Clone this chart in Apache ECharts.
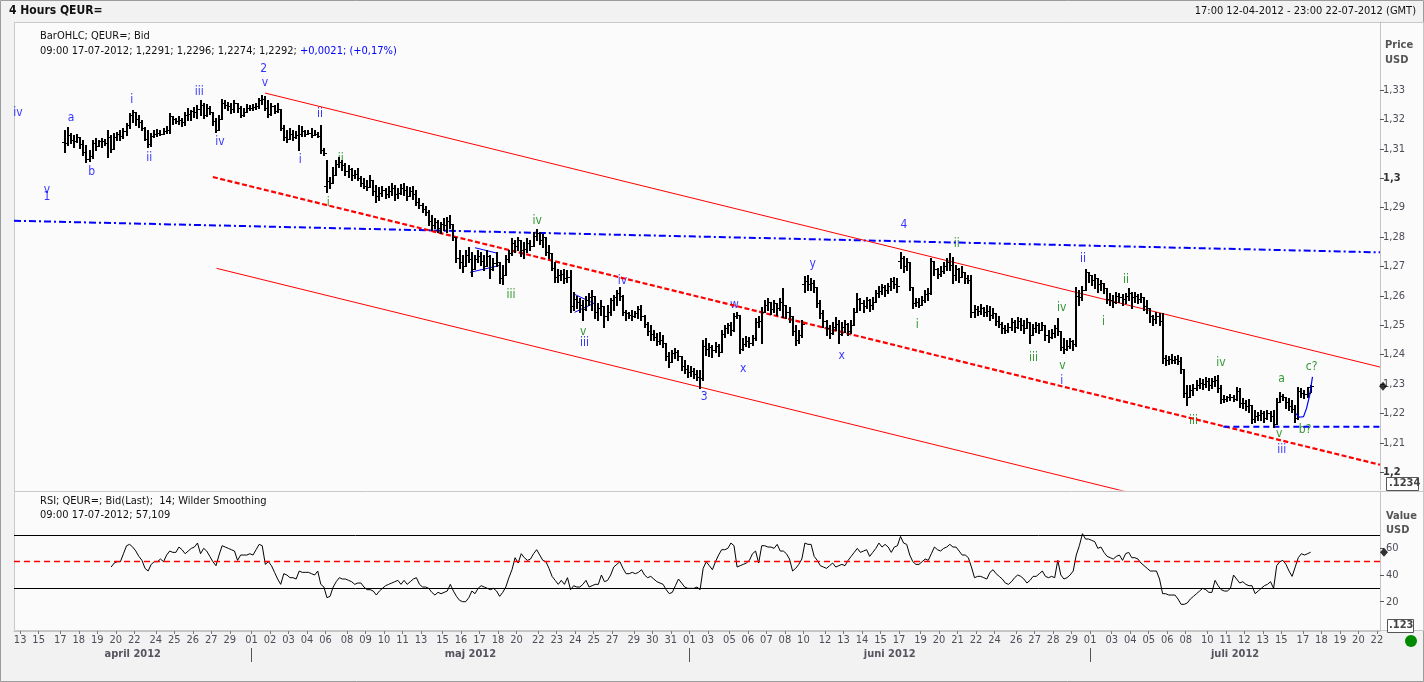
<!DOCTYPE html>
<html><head><meta charset="utf-8">
<script src="https://cdn.jsdelivr.net/npm/echarts@6/dist/echarts.min.js"></script>
<style>html,body{margin:0;padding:0;background:#f2f2f2;}#c{width:1424px;height:682px;}</style>
</head><body><div id="c"></div>
<script>
// ---------------- data ----------------
const sessionHours = ['01:00','05:00','09:00','13:00','17:00','21:00'];
const sundayHours = ['21:00'];
const firstDayHours = ['17:00','21:00'];
const rangeFirstDay = '2012-04-12', rangeLastDay = '2012-07-22';
const firstBarTime = '2012-04-17 05:00';
const rsiFirstTime = '2012-04-19 17:00';

const opens = [
1.3123,1.3120,1.3147,1.3130,1.3125,1.3140,1.3115,1.3090,1.3065,1.3075,
1.3120,1.3110,1.3125,1.3128,1.3120,1.3140,1.3100,1.3140,1.3150,1.3145,
1.3160,1.3180,1.3215,1.3225,1.3200,1.3190,1.3170,1.3135,1.3115,1.3145,
1.3150,1.3155,1.3150,1.3160,1.3165,1.3210,1.3200,1.3195,1.3198,1.3190,
1.3215,1.3220,1.3228,1.3225,1.3235,1.3250,1.3215,1.3240,1.3225,1.3195,
1.3165,1.3200,1.3255,1.3250,1.3245,1.3235,1.3255,1.3240,1.3215,1.3225,
1.3240,1.3238,1.3242,1.3245,1.3265,1.3270,1.3240,1.3220,1.3245,1.3230,
1.3235,1.3170,1.3140,1.3135,1.3150,1.3140,1.3148,1.3150,1.3160,1.3150,
1.3155,1.3148,1.3152,1.3145,1.3095,1.2975,1.2990,1.2985,1.3010,1.3050,
1.3055,1.3045,1.3025,1.3030,1.3010,1.3015,1.3000,1.2985,1.2975,1.2970,
1.2995,1.2955,1.2940,1.2950,1.2960,1.2945,1.2955,1.2965,1.2945,1.2950,
1.2965,1.2960,1.2940,1.2955,1.2945,1.2920,1.2910,1.2895,1.2885,1.2855,
1.2840,1.2850,1.2830,1.2845,1.2840,1.2855,1.2845,1.2800,1.2730,1.2715,
1.2700,1.2740,1.2725,1.2690,1.2725,1.2735,1.2720,1.2700,1.2735,1.2690,
1.2710,1.2715,1.2660,1.2670,1.2725,1.2745,1.2780,1.2770,1.2790,1.2755,
1.2760,1.2780,1.2770,1.2805,1.2815,1.2790,1.2800,1.2750,1.2745,1.2695,
1.2665,1.2670,1.2675,1.2660,1.2665,1.2565,1.2590,1.2580,1.2570,1.2555,
1.2585,1.2595,1.2600,1.2545,1.2560,1.2565,1.2530,1.2545,1.2585,1.2595,
1.2610,1.2600,1.2545,1.2540,1.2535,1.2530,1.2540,1.2555,1.2530,1.2505,
1.2480,1.2470,1.2460,1.2445,1.2450,1.2440,1.2395,1.2375,1.2405,1.2410,
1.2395,1.2360,1.2350,1.2340,1.2345,1.2335,1.2325,1.2320,1.2430,1.2420,
1.2425,1.2415,1.2430,1.2410,1.2470,1.2490,1.2500,1.2485,1.2530,1.2535,
1.2420,1.2435,1.2445,1.2440,1.2455,1.2510,1.2515,1.2545,1.2570,1.2580,
1.2555,1.2575,1.2560,1.2580,1.2570,1.2545,1.2530,1.2480,1.2450,1.2465,
1.2640,1.2650,1.2640,1.2645,1.2630,1.2575,1.2540,1.2515,1.2490,1.2475,
1.2495,1.2505,1.2470,1.2495,1.2505,1.2480,1.2500,1.2545,1.2590,1.2575,
1.2565,1.2585,1.2570,1.2580,1.2610,1.2615,1.2630,1.2620,1.2635,1.2650,
1.2640,1.2720,1.2730,1.2700,1.2715,1.2630,1.2575,1.2580,1.2570,1.2585,
1.2605,1.2610,1.2720,1.2690,1.2675,1.2685,1.2700,1.2715,1.2705,1.2670,
1.2690,1.2665,1.2680,1.2660,1.2655,1.2545,1.2555,1.2550,1.2560,1.2545,
1.2550,1.2535,1.2540,1.2515,1.2505,1.2490,1.2485,1.2495,1.2510,1.2495,
1.2515,1.2500,1.2490,1.2510,1.2465,1.2490,1.2500,1.2485,1.2500,1.2465,
1.2460,1.2475,1.2490,1.2480,1.2425,1.2420,1.2430,1.2445,1.2435,1.2600,
1.2595,1.2620,1.2680,1.2670,1.2655,1.2660,1.2640,1.2645,1.2625,1.2590,
1.2585,1.2580,1.2600,1.2595,1.2590,1.2600,1.2610,1.2595,1.2600,1.2590,
1.2595,1.2565,1.2560,1.2530,1.2520,1.2530,1.2515,1.2390,1.2380,1.2385,
1.2380,1.2385,1.2378,1.2350,1.2270,1.2255,1.2280,1.2285,1.2295,1.2305,
1.2300,1.2310,1.2295,1.2310,1.2315,1.2285,1.2250,1.2250,1.2255,1.2255,
1.2250,1.2275,1.2235,1.2235,1.2225,1.2230,1.2180,1.2190,1.2195,1.2200,
1.2185,1.2200,1.2190,1.2165,1.2240,1.2260,1.2255,1.2240,1.2225,1.2215,
1.2185,1.2275,1.2270,1.2265,1.2291];

const highs = [
1.3164,1.3175,1.3154,1.3147,1.3150,1.3140,1.3130,1.3113,1.3096,1.3130,
1.3137,1.3130,1.3137,1.3133,1.3164,1.3147,1.3154,1.3157,1.3164,1.3171,
1.3188,1.3222,1.3232,1.3222,1.3215,1.3198,1.3174,1.3164,1.3154,1.3164,
1.3167,1.3164,1.3171,1.3178,1.3222,1.3212,1.3205,1.3212,1.3205,1.3225,
1.3239,1.3232,1.3242,1.3249,1.3266,1.3256,1.3252,1.3246,1.3225,1.3205,
1.3215,1.3269,1.3266,1.3259,1.3256,1.3266,1.3252,1.3246,1.3239,1.3252,
1.3249,1.3252,1.3256,1.3273,1.3283,1.3280,1.3266,1.3256,1.3249,1.3256,
1.3232,1.3181,1.3164,1.3171,1.3164,1.3160,1.3181,1.3178,1.3164,1.3164,
1.3171,1.3164,1.3157,1.3181,1.3103,1.3062,1.3004,1.3038,1.3062,1.3072,
1.3062,1.3052,1.3045,1.3035,1.3028,1.3035,1.3007,1.3001,1.2994,1.3011,
1.2994,1.2977,1.2970,1.2974,1.2967,1.2974,1.2984,1.2977,1.2967,1.2980,
1.2984,1.2974,1.2970,1.2974,1.2960,1.2933,1.2916,1.2906,1.2892,1.2875,
1.2865,1.2858,1.2851,1.2865,1.2868,1.2875,1.2841,1.2800,1.2756,1.2739,
1.2756,1.2766,1.2749,1.2739,1.2756,1.2749,1.2739,1.2756,1.2739,1.2729,
1.2749,1.2715,1.2705,1.2739,1.2756,1.2796,1.2790,1.2800,1.2790,1.2783,
1.2796,1.2790,1.2817,1.2827,1.2817,1.2810,1.2790,1.2773,1.2739,1.2715,
1.2691,1.2688,1.2691,1.2688,1.2688,1.2613,1.2599,1.2592,1.2586,1.2599,
1.2609,1.2620,1.2586,1.2576,1.2586,1.2559,1.2569,1.2592,1.2603,1.2620,
1.2630,1.2603,1.2552,1.2545,1.2552,1.2548,1.2565,1.2569,1.2535,1.2511,
1.2501,1.2484,1.2474,1.2477,1.2467,1.2440,1.2409,1.2416,1.2422,1.2416,
1.2388,1.2382,1.2365,1.2361,1.2354,1.2348,1.2348,1.2450,1.2457,1.2440,
1.2433,1.2443,1.2436,1.2484,1.2501,1.2508,1.2511,1.2542,1.2545,1.2535,
1.2457,1.2463,1.2460,1.2467,1.2525,1.2531,1.2562,1.2586,1.2592,1.2579,
1.2586,1.2576,1.2592,1.2627,1.2569,1.2562,1.2525,1.2501,1.2484,1.2518,
1.2667,1.2671,1.2660,1.2654,1.2630,1.2586,1.2552,1.2518,1.2501,1.2511,
1.2528,1.2518,1.2511,1.2518,1.2508,1.2518,1.2559,1.2609,1.2592,1.2586,
1.2596,1.2589,1.2596,1.2620,1.2633,1.2640,1.2637,1.2643,1.2660,1.2664,
1.2660,1.2749,1.2735,1.2729,1.2691,1.2630,1.2592,1.2592,1.2599,1.2620,
1.2627,1.2729,1.2715,1.2694,1.2701,1.2715,1.2729,1.2745,1.2732,1.2705,
1.2694,1.2701,1.2681,1.2671,1.2671,1.2569,1.2565,1.2572,1.2562,1.2569,
1.2565,1.2559,1.2542,1.2531,1.2511,1.2501,1.2508,1.2525,1.2518,1.2528,
1.2525,1.2518,1.2525,1.2508,1.2504,1.2511,1.2508,1.2511,1.2491,1.2484,
1.2487,1.2501,1.2525,1.2467,1.2457,1.2450,1.2457,1.2450,1.2630,1.2620,
1.2633,1.2691,1.2681,1.2671,1.2674,1.2660,1.2654,1.2643,1.2620,1.2609,
1.2603,1.2613,1.2609,1.2606,1.2609,1.2627,1.2613,1.2613,1.2606,1.2609,
1.2596,1.2586,1.2560,1.2535,1.2545,1.2542,1.2542,1.2399,1.2395,1.2402,
1.2395,1.2399,1.2392,1.2350,1.2297,1.2297,1.2300,1.2314,1.2320,1.2317,
1.2324,1.2320,1.2320,1.2327,1.2331,1.2297,1.2263,1.2260,1.2266,1.2263,
1.2290,1.2286,1.2252,1.2246,1.2249,1.2229,1.2212,1.2205,1.2212,1.2208,
1.2212,1.2208,1.2212,1.2252,1.2273,1.2266,1.2256,1.2252,1.2246,1.2229,
1.2290,1.2286,1.2280,1.2290,1.2296];

const lows = [
1.3089,1.3113,1.3120,1.3106,1.3123,1.3103,1.3079,1.3055,1.3058,1.3069,
1.3096,1.3110,1.3106,1.3113,1.3072,1.3089,1.3123,1.3130,1.3130,1.3137,
1.3147,1.3171,1.3191,1.3181,1.3174,1.3164,1.3130,1.3106,1.3109,1.3140,
1.3143,1.3147,1.3150,1.3154,1.3154,1.3184,1.3188,1.3184,1.3178,1.3181,
1.3198,1.3198,1.3208,1.3205,1.3215,1.3205,1.3212,1.3218,1.3181,1.3157,
1.3164,1.3200,1.3239,1.3232,1.3222,1.3225,1.3225,1.3208,1.3212,1.3225,
1.3232,1.3232,1.3235,1.3239,1.3252,1.3232,1.3208,1.3215,1.3222,1.3225,
1.3164,1.3130,1.3123,1.3143,1.3130,1.3137,1.3096,1.3143,1.3143,1.3150,
1.3140,1.3147,1.3140,1.3086,1.3079,1.2953,1.2967,1.2984,1.3021,1.3038,
1.3028,1.3011,1.3004,1.2994,1.3001,1.2994,1.2973,1.2967,1.2960,1.2977,
1.2943,1.2919,1.2926,1.2940,1.2933,1.2936,1.2943,1.2926,1.2933,1.2946,
1.2943,1.2926,1.2940,1.2929,1.2909,1.2899,1.2885,1.2875,1.2841,1.2824,
1.2831,1.2817,1.2813,1.2824,1.2817,1.2831,1.2790,1.2715,1.2694,1.2681,
1.2705,1.2715,1.2667,1.2694,1.2715,1.2705,1.2688,1.2701,1.2661,1.2688,
1.2701,1.2643,1.2640,1.2688,1.2715,1.2739,1.2749,1.2756,1.2735,1.2729,
1.2749,1.2756,1.2769,1.2790,1.2776,1.2766,1.2739,1.2729,1.2688,1.2647,
1.2647,1.2654,1.2643,1.2647,1.2545,1.2552,1.2558,1.2545,1.2518,1.2552,
1.2569,1.2552,1.2525,1.2518,1.2535,1.2494,1.2518,1.2535,1.2552,1.2569,
1.2586,1.2535,1.2518,1.2525,1.2518,1.2528,1.2525,1.2518,1.2494,1.2467,
1.2450,1.2450,1.2433,1.2436,1.2426,1.2382,1.2358,1.2375,1.2388,1.2382,
1.2348,1.2337,1.2324,1.2327,1.2320,1.2314,1.2286,1.2315,1.2399,1.2395,
1.2392,1.2409,1.2395,1.2410,1.2460,1.2474,1.2467,1.2480,1.2525,1.2406,
1.2416,1.2429,1.2426,1.2433,1.2450,1.2494,1.2440,1.2545,1.2552,1.2538,
1.2545,1.2535,1.2552,1.2528,1.2525,1.2511,1.2467,1.2433,1.2440,1.2460,
1.2613,1.2620,1.2620,1.2613,1.2562,1.2525,1.2494,1.2467,1.2457,1.2470,
1.2484,1.2440,1.2467,1.2477,1.2467,1.2474,1.2500,1.2545,1.2552,1.2545,
1.2558,1.2548,1.2555,1.2579,1.2596,1.2606,1.2599,1.2609,1.2620,1.2627,
1.2613,1.2695,1.2681,1.2688,1.2620,1.2558,1.2565,1.2562,1.2569,1.2579,
1.2586,1.2605,1.2671,1.2660,1.2667,1.2677,1.2688,1.2688,1.2643,1.2654,
1.2647,1.2664,1.2643,1.2643,1.2528,1.2528,1.2535,1.2538,1.2531,1.2531,
1.2518,1.2525,1.2501,1.2494,1.2474,1.2474,1.2477,1.2484,1.2477,1.2491,
1.2484,1.2474,1.2491,1.2440,1.2467,1.2477,1.2474,1.2484,1.2450,1.2443,
1.2457,1.2460,1.2467,1.2416,1.2406,1.2416,1.2422,1.2416,1.2430,1.2569,
1.2586,1.2620,1.2647,1.2637,1.2627,1.2613,1.2620,1.2609,1.2576,1.2569,
1.2562,1.2576,1.2579,1.2569,1.2576,1.2586,1.2559,1.2579,1.2576,1.2579,
1.2552,1.2542,1.2511,1.2501,1.2508,1.2501,1.2371,1.2365,1.2368,1.2371,
1.2371,1.2368,1.2337,1.2256,1.2229,1.2256,1.2263,1.2280,1.2286,1.2283,
1.2290,1.2280,1.2286,1.2293,1.2273,1.2236,1.2239,1.2242,1.2246,1.2242,
1.2246,1.2222,1.2218,1.2212,1.2205,1.2167,1.2171,1.2178,1.2178,1.2171,
1.2181,1.2174,1.2154,1.2164,1.2239,1.2246,1.2218,1.2212,1.2205,1.2171,
1.2180,1.2256,1.2252,1.2255,1.2274];

const closes = [
1.3120,1.3147,1.3130,1.3125,1.3140,1.3115,1.3090,1.3065,1.3075,1.3120,
1.3110,1.3125,1.3128,1.3120,1.3140,1.3100,1.3140,1.3150,1.3145,1.3160,
1.3180,1.3215,1.3225,1.3200,1.3190,1.3170,1.3135,1.3115,1.3145,1.3150,
1.3155,1.3150,1.3160,1.3165,1.3210,1.3200,1.3195,1.3198,1.3190,1.3215,
1.3220,1.3228,1.3225,1.3235,1.3250,1.3215,1.3240,1.3225,1.3195,1.3165,
1.3200,1.3255,1.3250,1.3245,1.3235,1.3255,1.3240,1.3215,1.3225,1.3240,
1.3238,1.3242,1.3245,1.3265,1.3270,1.3240,1.3220,1.3245,1.3230,1.3235,
1.3170,1.3140,1.3135,1.3150,1.3140,1.3148,1.3150,1.3160,1.3150,1.3155,
1.3148,1.3152,1.3145,1.3095,1.3085,1.2990,1.2985,1.3010,1.3050,1.3055,
1.3045,1.3025,1.3030,1.3010,1.3015,1.3000,1.2985,1.2975,1.2970,1.2995,
1.2955,1.2940,1.2950,1.2960,1.2945,1.2955,1.2965,1.2945,1.2950,1.2965,
1.2960,1.2940,1.2955,1.2945,1.2920,1.2910,1.2895,1.2885,1.2855,1.2840,
1.2850,1.2830,1.2845,1.2840,1.2855,1.2845,1.2800,1.2730,1.2715,1.2700,
1.2740,1.2725,1.2690,1.2725,1.2735,1.2720,1.2700,1.2735,1.2690,1.2710,
1.2715,1.2660,1.2670,1.2725,1.2745,1.2780,1.2770,1.2790,1.2755,1.2760,
1.2780,1.2770,1.2805,1.2815,1.2790,1.2800,1.2750,1.2745,1.2695,1.2665,
1.2670,1.2675,1.2660,1.2665,1.2565,1.2590,1.2580,1.2570,1.2555,1.2585,
1.2595,1.2600,1.2545,1.2560,1.2565,1.2530,1.2545,1.2585,1.2595,1.2610,
1.2600,1.2545,1.2540,1.2535,1.2530,1.2540,1.2555,1.2530,1.2505,1.2480,
1.2470,1.2460,1.2445,1.2450,1.2440,1.2395,1.2375,1.2405,1.2410,1.2395,
1.2360,1.2350,1.2340,1.2345,1.2335,1.2325,1.2320,1.2430,1.2420,1.2425,
1.2415,1.2430,1.2410,1.2470,1.2490,1.2500,1.2485,1.2530,1.2535,1.2420,
1.2435,1.2445,1.2440,1.2455,1.2510,1.2515,1.2545,1.2570,1.2580,1.2555,
1.2575,1.2560,1.2580,1.2570,1.2545,1.2530,1.2480,1.2450,1.2465,1.2505,
1.2650,1.2640,1.2645,1.2630,1.2575,1.2540,1.2515,1.2490,1.2475,1.2495,
1.2505,1.2470,1.2495,1.2505,1.2480,1.2500,1.2545,1.2590,1.2575,1.2565,
1.2585,1.2570,1.2580,1.2610,1.2615,1.2630,1.2620,1.2635,1.2650,1.2640,
1.2635,1.2730,1.2700,1.2715,1.2630,1.2575,1.2580,1.2570,1.2585,1.2605,
1.2610,1.2720,1.2690,1.2675,1.2685,1.2700,1.2715,1.2705,1.2670,1.2690,
1.2665,1.2680,1.2660,1.2655,1.2545,1.2555,1.2550,1.2560,1.2545,1.2550,
1.2535,1.2540,1.2515,1.2505,1.2490,1.2485,1.2495,1.2510,1.2495,1.2515,
1.2500,1.2490,1.2510,1.2465,1.2490,1.2500,1.2485,1.2500,1.2465,1.2460,
1.2475,1.2490,1.2480,1.2425,1.2420,1.2430,1.2445,1.2435,1.2600,1.2595,
1.2620,1.2680,1.2670,1.2655,1.2660,1.2640,1.2645,1.2625,1.2590,1.2585,
1.2580,1.2600,1.2595,1.2590,1.2600,1.2610,1.2595,1.2600,1.2590,1.2595,
1.2565,1.2560,1.2530,1.2520,1.2530,1.2515,1.2390,1.2380,1.2385,1.2380,
1.2385,1.2378,1.2350,1.2270,1.2255,1.2280,1.2285,1.2295,1.2305,1.2300,
1.2310,1.2295,1.2310,1.2315,1.2285,1.2250,1.2250,1.2255,1.2255,1.2250,
1.2275,1.2235,1.2235,1.2225,1.2230,1.2180,1.2190,1.2195,1.2200,1.2185,
1.2200,1.2190,1.2165,1.2240,1.2260,1.2255,1.2240,1.2225,1.2215,1.2185,
1.2275,1.2270,1.2265,1.2271,1.2292];

const rsiValues = [
46,49,50,50,56,62,63,61,58,54, 51,45,43,48,50,50,52,50,55,58,
57,57,61,59,56,58,60,61,64,56, 60,58,54,50,47,55,62,61,60,59,
58,51,55,55,55,56,55,59,63,62, 48,50,47,42,37,33,41,40,38,38,
37,43,42,42,42,41,40,43,33,31, 23,24,31,35,38,37,37,36,35,33,
34,34,31,29,29,28,25,28,30,32, 33,34,35,36,33,36,33,35,37,38,
33,31,31,30,27,25,27,26,27,28, 33,28,24,21,20,20,23,28,26,30,
32,31,30,29,30,28,24,27,31,38, 44,53,49,56,53,51,52,56,59,55,
51,50,45,39,36,33,36,33,38,29, 32,31,31,33,36,31,32,33,33,40,
35,36,40,46,48,50,45,41,41,42, 41,42,44,40,38,39,37,35,34,33,
29,26,27,32,37,34,31,30,30,30, 31,29,45,50,47,44,50,55,59,59,
60,64,62,46,47,48,49,51,56,58, 49,62,62,61,61,60,63,58,58,56,
52,43,45,48,52,64,63,63,54,51, 47,46,45,47,49,46,47,48,47,51,
54,57,60,57,58,59,54,57,60,64, 61,63,61,57,61,62,69,64,63,55,
50,48,48,50,52,51,56,61,59,58, 60,61,63,61,61,58,55,55,53,46,
38,39,39,38,37,42,44,41,39,37, 34,33,35,38,40,39,37,34,36,39,
39,41,43,39,38,39,38,51,40,37, 38,40,43,55,62,71,67,67,66,65,
60,61,57,54,53,52,54,55,51,56, 57,53,53,52,49,47,45,43,43,43,
37,26,26,25,25,25,22,18,18,19, 22,24,26,28,30,29,27,27,36,32,
29,28,28,30,40,37,34,35,33,32, 32,26,28,30,32,33,35,30,47,50,
51,48,43,39,46,53,56,55,56,57.109];

const priceTicks = [1.20,1.21,1.22,1.23,1.24,1.25,1.26,1.27,1.28,1.29,1.30,1.31,1.32,1.33];
const boldPriceTicks = [1.20,1.30];
const rsiTicks = [20,40,60];
const rsiBands = [70,30];
const rsiMid = 50;
const shownDays = ['04-13','04-15','04-17','04-18','04-19','04-20','04-22','04-24','04-25','04-26','04-27','04-29',
'05-01','05-02','05-03','05-04','05-06','05-08','05-09','05-10','05-11','05-13','05-15','05-16','05-17','05-18','05-20','05-22','05-23','05-24','05-25','05-27','05-29','05-30','05-31',
'06-01','06-03','06-05','06-06','06-07','06-08','06-10','06-12','06-13','06-14','06-15','06-17','06-19','06-20','06-21','06-22','06-24','06-26','06-27','06-28','06-29',
'07-01','07-03','07-04','07-05','07-06','07-08','07-10','07-11','07-12','07-13','07-15','07-17','07-18','07-19','07-20','07-22'];
const monthNames = ['april 2012','maj 2012','juni 2012','juli 2012'];
const monthFirstDays = ['2012-04-12','2012-05-01','2012-06-01','2012-07-01'];

// Elliott wave annotations: [text, bar position, price, colour key]
const waveLabels = [
['iv',1.3,1.3222,'b'],['v',10.7,1.2962,'b'],['1',10.7,1.2936,'b'],['a',18.5,1.3205,'b'],['b',25.2,1.3022,'b'],
['i',38.2,1.3266,'b'],['ii',43.9,1.3070,'b'],['iii',60.1,1.3294,'b'],['iv',66.8,1.3124,'b'],['2',81.0,1.3371,'b'],['v',81.4,1.3323,'b'],
['ii',99.2,1.3218,'b'],['i',92.8,1.3062,'b'],['iii',185.0,1.2440,'b'],['iv',197.3,1.2650,'b'],['3',223.8,1.2256,'b'],
['w',233.6,1.2569,'b'],['x',236.5,1.2353,'b'],['y',259.0,1.2708,'b'],['x',268.4,1.2396,'b'],['4',288.6,1.2841,'b'],
['i',339.8,1.2311,'b'],['ii',346.7,1.2727,'b'],['iii',411.1,1.2075,'b'],
['i',101.9,1.2915,'g'],['ii',106.0,1.3065,'g'],['iii',161.2,1.2603,'g'],['iv',169.7,1.2854,'g'],['v',184.6,1.2478,'g'],
['i',292.9,1.2501,'g'],['ii',305.7,1.2778,'g'],['iii',330.6,1.2389,'g'],['iv',339.8,1.2559,'g'],['v',340.0,1.2361,'g'],
['i',353.3,1.2512,'g'],['ii',360.6,1.2654,'g'],['iii',382.5,1.2175,'g'],['iv',391.4,1.2372,'g'],['a',411.1,1.2317,'g'],
['v',410.3,1.2132,'g'],['b?',418.7,1.2143,'g'],['c?',420.8,1.2357,'g']];

// trend lines: [bar position, price]
const channelUpper = [[81.4,1.32897],[443,1.23577]];
const channelMiddle = [[64.5,1.30040],[443,1.20254]];
const channelLower = [[65.7,1.26934],[443,1.17216]];
const blueDashDot = [[0,1.28553],[443,1.27478]];
const blueSupport = [[392.2,1.2155],[443,1.2155]];
const triangleA1 = [[149.5,1.27635],[156.9,1.27444]];
const triangleA2 = [[147.9,1.26798],[157.6,1.27036]];
const triangleB = [[181.8,1.26050],[188.0,1.25744],[181.8,1.25438]];
const projectionC = [[415.6,1.2200],[416.9,1.2187],[418.2,1.2189],[419.2,1.2218],[420.2,1.2262],[421.1,1.2324]];

// ---------------- calendar of 4h slots ----------------
const slots = [], dayStart = {};
(function(){
  const p = s => s.split('-').map(Number);
  const a = p(rangeFirstDay), b = p(rangeLastDay);
  const d = new Date(Date.UTC(a[0],a[1]-1,a[2])), end = Date.UTC(b[0],b[1]-1,b[2]);
  let first = true;
  while (d.getTime() <= end) {
    const dow = d.getUTCDay(), key = d.toISOString().slice(0,10);
    const hrs = dow === 6 ? [] : dow === 0 ? sundayHours : (first ? firstDayHours : sessionHours);
    if (hrs.length) { dayStart[key] = slots.length; hrs.forEach(h => slots.push(key + ' ' + h)); }
    first = false; d.setUTCDate(d.getUTCDate() + 1);
  }
})();
const N = slots.length;
const firstBar = slots.indexOf(firstBarTime);
const rsiFirst = slots.indexOf(rsiFirstTime);

const ohlcData = closes.map((c,k) => [firstBar + k + 0.5, opens[k], highs[k], lows[k], c]);
const rsiData = rsiValues.map((v,k) => [rsiFirst + k + 0.5, v]);

const dayTickValues = [], dayLabelMap = {};
shownDays.forEach(md => { const i = dayStart['2012-' + md]; dayTickValues.push(i); dayLabelMap[i] = md.slice(3); });
const mStarts = monthFirstDays.map(d => dayStart[d]);
const monthSep = mStarts.slice(1);
const monthMid = [], monthLabelMap = {};
mStarts.forEach((s,k) => { const e = k+1 < mStarts.length ? mStarts[k+1] : N; const m = (s+e)/2; monthMid.push(m); monthLabelMap[m] = monthNames[k]; });

// ---------------- chart ----------------
const FONT = '"DejaVu Sans Condensed","Liberation Sans",sans-serif';
const BLUE = '#0000ff', GREEN = '#008000', RED = '#ff0000', AXC = '#4d4d58';
const last = closes.length - 1;
const f4 = v => v.toFixed(4).replace('.', ',');
const lastT = slots[firstBar + last];
const stamp = lastT.slice(11) + ' ' + lastT.slice(8,10) + '-' + lastT.slice(5,7) + '-' + lastT.slice(0,4);
const chg = closes[last] - closes[last-1];
const pct = chg / closes[last-1] * 100;
const ohlcLine = stamp + '; ' + [opens[last],highs[last],lows[last],closes[last]].map(f4).join('; ') + '; ';
const chgLine = '+' + f4(chg) + '; (+' + pct.toFixed(2).replace('.', ',') + '%)';
const rsiLine = stamp + '; ' + rsiValues[rsiValues.length-1].toFixed(3).replace('.', ',');

const PMIN = 1.19395, PMAX = 1.35313;

function renderOHLC(params, api) {
  const x = api.value(0), o = api.value(1), h = api.value(2), l = api.value(3), c = api.value(4);
  const top = api.coord([x, Math.max(h,o,c)]), bot = api.coord([x, Math.min(l,o,c)]);
  const po = api.coord([x,o]), pc = api.coord([x,c]);
  const X = Math.round(top[0]);
  const yo = Math.round(po[1]) + 0.5, yc = Math.round(pc[1]) + 0.5;
  return {type:'group', children:[
    {type:'line', shape:{x1:X, y1:Math.round(top[1]), x2:X, y2:Math.round(bot[1])+1}, style:{stroke:'#000', lineWidth:2}},
    {type:'line', shape:{x1:X-3, y1:yo, x2:X-1, y2:yo}, style:{stroke:'#000', lineWidth:1}},
    {type:'line', shape:{x1:X+1, y1:yc, x2:X+3, y2:yc}, style:{stroke:'#000', lineWidth:1}}
  ]};
}

function lineS(data, color, width, type, z) {
  return {type:'line', xAxisIndex:0, yAxisIndex:0, data, symbol:'none', silent:true, z: z || 3,
    lineStyle:{color, width, type}, clip:true, animation:false};
}

const chart = echarts.init(document.getElementById('c'), null, {renderer:'canvas'});
chart.setOption({
  animation:false,
  backgroundColor:'#f2f2f2',
  textStyle:{fontFamily:FONT},
  grid:[
    {left:14, top:22, width:1366, height:468, show:false},
    {left:14, top:492, width:1366, height:139, show:false}
  ],
  xAxis:[
    {type:'value', gridIndex:0, min:0, max:N, show:false, axisLine:{onZero:false}},
    {type:'value', gridIndex:1, min:0, max:N, position:'bottom', splitLine:{show:false},
      axisLine:{show:true, onZero:false, lineStyle:{color:'#c4c4c4'}},
      axisTick:{show:true, customValues:dayTickValues, length:3, lineStyle:{color:'#777'}},
      axisLabel:{show:true, customValues:dayTickValues, formatter:v => dayLabelMap[v] || '', margin:4, fontSize:11, color:AXC, fontFamily:FONT}},
    {type:'value', gridIndex:1, min:0, max:N, position:'bottom', offset:17, splitLine:{show:false}, axisLine:{show:false, onZero:false},
      axisTick:{show:true, customValues:monthSep, length:14, lineStyle:{color:'#555'}},
      axisLabel:{show:true, customValues:monthMid, formatter:v => monthLabelMap[v] || '', margin:1, fontSize:11, fontWeight:'bold', color:'#555560', fontFamily:FONT}}
  ],
  yAxis:[
    {type:'value', gridIndex:0, position:'right', min:PMIN, max:PMAX, splitLine:{show:false},
      axisLine:{show:true, onZero:false, lineStyle:{color:'#c4c4c4'}},
      axisTick:{show:true, customValues:priceTicks, length:4, lineStyle:{color:'#555'}},
      axisLabel:{show:true, customValues:priceTicks, margin:3, fontSize:11, color:AXC, fontFamily:FONT,
        formatter:v => { const s = String(+v.toFixed(2)).replace('.', ','); return boldPriceTicks.some(b => Math.abs(b-v) < 1e-6) ? '{b|' + s + '}' : s; },
        rich:{b:{fontWeight:'bold', fontSize:11, color:'#333', fontFamily:FONT}}}},
    {type:'value', gridIndex:1, position:'right', min:-2, max:102.3, splitLine:{show:false},
      axisLine:{show:true, onZero:false, lineStyle:{color:'#c4c4c4'}},
      axisTick:{show:true, customValues:rsiTicks, length:4, lineStyle:{color:'#555'}},
      axisLabel:{show:true, customValues:rsiTicks, margin:6, fontSize:11, color:AXC, fontFamily:FONT}}
  ],
  graphic:[
    {type:'rect', silent:true, z:-20, shape:{x:0.5,y:0.5,width:1423,height:681}, style:{fill:'#f2f2f2', stroke:'#9c9c9c'}},
    {type:'rect', silent:true, z:-19, shape:{x:14.5,y:22.5,width:1409,height:608}, style:{fill:'#fbfbfb', stroke:'#c8c8c8'}},
    {type:'line', silent:true, z:-18, shape:{x1:14,y1:491.5,x2:1424,y2:491.5}, style:{stroke:'#c8c8c8', lineWidth:1}},
    {type:'text', z:50, left:9, top:5, style:{text:'4 Hours QEUR=', font:'bold 12px ' + FONT, fill:'#111'}},
    {type:'text', z:50, right:8, top:6, style:{text:'17:00 12-04-2012 - 23:00 22-07-2012 (GMT)', font:'11px ' + FONT, fill:'#111'}},
    {type:'text', z:50, left:40, top:31, style:{text:'BarOHLC; QEUR=; Bid', font:'11px ' + FONT, fill:'#111'}},
    {type:'text', z:50, left:40, top:46, style:{text:'{k|' + ohlcLine + '}{c|' + chgLine + '}', font:'11px ' + FONT,
      rich:{k:{fill:'#111', font:'11px ' + FONT}, c:{fill:BLUE, font:'11px ' + FONT}}}},
    {type:'text', z:50, left:40, top:496, style:{text:'RSI; QEUR=; Bid(Last);  14; Wilder Smoothing', font:'11px ' + FONT, fill:'#111'}},
    {type:'text', z:50, left:40, top:510, style:{text:rsiLine, font:'11px ' + FONT, fill:'#111'}},
    {type:'text', z:50, left:1385, top:40, style:{text:'Price', font:'bold 11px ' + FONT, fill:'#555'}},
    {type:'text', z:50, left:1385, top:55, style:{text:'USD', font:'bold 11px ' + FONT, fill:'#555'}},
    {type:'text', z:50, left:1386, top:511, style:{text:'Value', font:'bold 11px ' + FONT, fill:'#555'}},
    {type:'text', z:50, left:1386, top:525, style:{text:'USD', font:'bold 11px ' + FONT, fill:'#555'}},
    {type:'rect', z:50, shape:{x:1386.5,y:477.5,width:32,height:13}, style:{fill:'#fff', stroke:'#555'}},
    {type:'text', z:51, left:1389, top:478, style:{text:'.1234', font:'bold 11px ' + FONT, fill:'#444'}},
    {type:'rect', z:50, shape:{x:1387.5,y:619.5,width:26,height:13}, style:{fill:'#fff', stroke:'#555'}},
    {type:'text', z:51, left:1389, top:620, style:{text:'.123', font:'bold 11px ' + FONT, fill:'#444'}},
    {type:'circle', z:50, shape:{cx:1411, cy:641, r:6}, style:{fill:'#008a00'}}
  ],
  series:[
    {type:'scatter', xAxisIndex:0, yAxisIndex:0, silent:true, z:1, symbolSize:1, itemStyle:{color:'rgba(0,0,0,0)'},
      data: waveLabels.map(w => ({value:[w[1], w[2]], name:w[0], label:{color: w[3] === 'b' ? BLUE : GREEN}})),
      label:{show:true, position:'inside', formatter:p => p.name, fontSize:12, fontFamily:FONT}},
    lineS(blueDashDot, BLUE, 2, [7,3,2,3], 2),
    lineS(channelUpper, RED, 1, 'solid', 2),
    lineS(channelMiddle, RED, 2.2, [5,2.5], 2),
    lineS(channelLower, RED, 1, 'solid', 2),
    lineS(blueSupport, BLUE, 2, [6,4], 2),
    lineS(triangleA1, BLUE, 1, 'solid', 2),
    lineS(triangleA2, BLUE, 1, 'solid', 2),
    lineS(triangleB, BLUE, 1, 'solid', 2),
    lineS(projectionC, BLUE, 1.2, 'solid', 4),
    {type:'custom', xAxisIndex:0, yAxisIndex:0, renderItem:renderOHLC, data:ohlcData, z:3, silent:true, clip:true,
      encode:{x:0, y:[1,2,3,4]}},
    {type:'scatter', xAxisIndex:0, yAxisIndex:0, data:[[N, closes[last]]], symbol:'diamond', symbolSize:[8,9], symbolOffset:[3,0],
      itemStyle:{color:'#000'}, clip:false, silent:true, z:6},
    {type:'line', xAxisIndex:1, yAxisIndex:1, data:rsiData, symbol:'none', silent:true, z:3,
      lineStyle:{color:'#000', width:1},
      markLine:{silent:true, symbol:'none', label:{show:false}, animation:false,
        data:[
          {yAxis:rsiBands[0], lineStyle:{color:'#000', type:'solid', width:1}},
          {yAxis:rsiMid, lineStyle:{color:RED, type:[6,4], width:1.4}},
          {yAxis:rsiBands[1], lineStyle:{color:'#000', type:'solid', width:1}}
        ]}},
    {type:'scatter', xAxisIndex:1, yAxisIndex:1, data:[[N, rsiValues[rsiValues.length-1]]], symbol:'diamond', symbolSize:[8,9], symbolOffset:[4,0],
      itemStyle:{color:'#000'}, clip:false, silent:true, z:6}
  ]
});
</script></body></html>
